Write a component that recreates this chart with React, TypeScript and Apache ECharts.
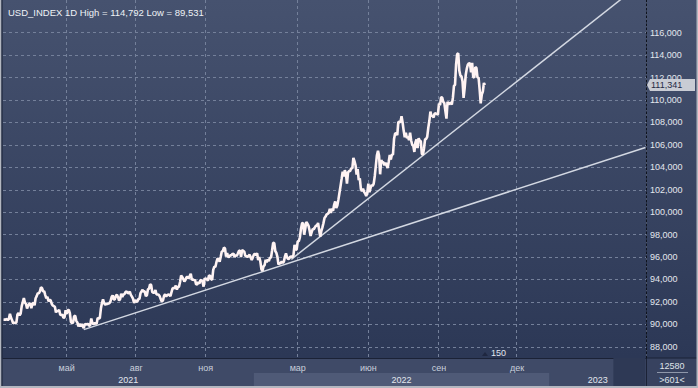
import React, { useEffect, useRef } from 'react';
import * as echarts from 'echarts';

// ---------- DATA ----------
const symbol = 'USD_INDEX';
const timeframe = '1D';
const highValue = 114.792;
const lowValue = 89.531;
const startDate = '2021-02-09';
const barsAhead = 150;
const volumeText = '12580';
const visibleBars = 601;

// daily closes, trading days (weekdays) from 2021-02-09
const closes2021 = [
  // Feb
  90.43, 90.42, 90.42, 90.48, 90.36, 90.49, 90.94, 90.59, 90.36, 90.10, 90.14, 90.14, 90.15, 90.88,
  // Mar
  91.01, 90.81, 90.97, 91.62, 91.98, 92.34, 91.94, 91.83, 91.42, 91.67, 91.82, 91.87, 91.44, 91.86, 91.92,
  91.70, 92.33, 92.52, 92.78, 92.77, 92.94, 93.29, 93.23,
  // Apr
  92.93, 92.96, 92.61, 92.33, 92.45, 92.06, 92.16, 92.17, 91.84, 91.68, 91.62, 91.56, 91.06, 91.24, 91.16,
  91.31, 90.86, 90.84, 90.86, 90.59, 90.62, 91.27,
  // May
  90.93, 91.28, 91.28, 90.99, 90.22, 90.11, 90.16, 90.73, 90.76, 90.31, 90.17, 89.81, 90.07, 89.80, 90.03,
  89.84, 89.66, 90.06, 89.97, 90.03, 90.03,
  // Jun
  89.88, 89.91, 90.52, 90.14, 90.00, 90.10, 90.10, 90.06, 90.57, 90.53, 90.55, 91.41, 91.90, 92.23, 91.90,
  91.75, 91.81, 91.82, 91.85, 91.90, 92.06, 92.44,
  // Jul
  92.58, 92.23, 92.23, 92.55, 92.64, 92.42, 92.12, 92.26, 92.73, 92.45, 92.66, 92.68, 92.88, 92.94, 92.79,
  92.78, 92.92, 92.63, 92.47, 92.29, 91.91, 92.17,
  // Aug
  92.05, 92.00, 92.27, 92.25, 92.78, 92.93, 93.08, 92.92, 92.94, 92.52, 92.60, 93.13, 93.19, 93.58, 93.50,
  92.89, 92.82, 92.82, 93.07, 92.66, 92.66, 92.63,
  // Sep
  92.50, 92.23, 92.03, 92.13, 92.53, 92.68, 92.49, 92.58, 92.67, 92.63, 92.51, 92.87, 93.20, 93.27, 93.21,
  93.46, 93.10, 93.33, 93.36, 93.77, 94.36, 94.23,
  // Oct
  94.04, 93.82, 93.96, 94.21, 94.21, 94.09, 94.31, 94.51, 93.97, 93.99, 93.96, 93.94, 93.57, 93.56, 93.76,
  93.62, 93.95, 93.92, 93.80, 93.36, 94.12,
  // Nov
  94.04, 94.06, 93.88, 94.36, 94.34, 94.04, 93.96, 94.86, 95.15, 95.12, 95.54, 95.86, 95.83, 95.58, 96.03,
  96.50, 96.52, 96.84, 96.78, 96.04, 96.36, 95.99,
  // Dec
  96.03, 96.15, 96.16, 96.28, 96.30, 95.99, 96.18, 96.10, 96.31, 96.54, 96.60, 95.99, 96.63, 96.54, 96.49,
  96.09, 96.10, 96.01, 96.09, 96.22, 95.96, 95.75, 95.97,
];

const closes2022 = [
  // Jan
  96.22, 96.29, 96.18, 96.35, 95.73, 95.99, 95.63, 94.92, 94.76, 95.17, 95.28, 95.75, 95.53, 95.78, 95.64,
  95.96, 95.94, 96.58, 97.25, 97.27, 96.54,
  // Feb
  96.38, 96.01, 95.34, 95.47, 95.43, 95.62, 95.47, 95.59, 96.04, 96.32, 95.98, 95.82, 95.87, 96.03, 96.05,
  96.00, 96.18, 97.09, 96.62, 96.70,
  // Mar
  97.41, 97.41, 97.77, 98.51, 99.00, 99.06, 97.99, 98.52, 99.12, 98.99, 98.81, 98.40, 97.88, 98.22, 98.50,
  98.47, 98.64, 98.80, 98.79, 99.04, 98.40, 97.82, 98.31,
  // Apr
  98.62, 99.02, 99.48, 99.61, 99.81, 99.85, 99.95, 100.31, 99.93, 100.33, 100.12, 100.66, 100.96, 100.38,
  100.60, 101.12, 101.73, 102.34, 102.97, 103.62, 103.19,
  // May
  103.75, 103.46, 102.54, 103.55, 103.66, 103.67, 103.92, 103.90, 104.85, 104.56, 104.19, 103.35, 103.85,
  102.87, 103.01, 102.07, 101.87, 102.09, 101.81, 101.66, 101.44, 101.75,
  // Jun
  102.55, 101.79, 102.14, 102.43, 102.34, 102.55, 103.23, 104.15, 105.08, 105.48, 105.03, 103.38, 104.65,
  104.46, 104.45, 104.19, 104.41, 104.19, 103.95, 104.48, 105.10, 104.69,
  // Jul
  105.14, 105.12, 106.52, 107.02, 107.04, 106.87, 108.03, 108.07, 108.02, 108.56, 108.00, 107.28, 106.68,
  107.08, 106.61, 106.71, 106.44, 107.08, 106.39, 106.01, 105.92,
  // Aug
  105.37, 106.23, 106.49, 105.71, 106.60, 106.38, 106.34, 105.19, 105.12, 105.68, 106.49, 106.54, 106.72,
  107.52, 108.15, 108.97, 108.58, 108.60, 108.44, 108.82, 108.79, 108.77, 108.70,
  // Sep
  109.69, 109.54, 110.25, 110.23, 109.83, 109.73, 109.01, 108.34, 109.85, 109.63, 109.72, 109.76, 109.59,
  110.19, 111.26, 111.36, 113.19, 114.10, 114.16, 112.63, 112.18, 112.12,
  // Oct
  111.68, 110.19, 111.06, 112.24, 112.80, 113.15, 113.29, 113.24, 112.47, 113.31, 112.06, 111.99, 112.94,
  112.86, 111.99, 112.01, 110.95, 109.71, 110.49, 110.76, 111.52,
  // Nov
  111.341,
];

const lastPrice = 111.341;

const monthTickDates = ['2021-05-03', '2021-08-02', '2021-11-01', '2022-03-01', '2022-06-01', '2022-09-01', '2022-12-01'];
const monthTickLabels = ['май', 'авг', 'ноя', 'мар', 'июн', 'сен', 'дек'];
const yTicks = [88, 90, 92, 94, 96, 98, 100, 102, 104, 106, 108, 110, 112, 114, 116];

const yearBands = [
  { year: '2021', from: '2021-02-09', to: '2021-12-31', color: '#3f4a67' },
  { year: '2022', from: '2022-01-03', to: '2022-12-31', color: '#4f5a77' },
  { year: '2023', from: '2023-01-01', to: '2023-03-31', color: '#3f4a67' },
];
const scaleBlockFrom = '2023-03-01';

// trend lines: [date, value]
const trend1: [string, number][] = [['2021-05-25', 89.531], ['2023-03-31', 105.77]];
const trend2: [string, number][] = [['2022-02-21', 95.8], ['2023-03-31', 120.7]];

// ---------- helpers ----------
function buildCategories(): string[] {
  const total = closes2021.length + closes2022.length;
  const out: string[] = [];
  const [y, m, d] = startDate.split('-').map(Number);
  let t = Date.UTC(y, m - 1, d);
  const DAY = 86400000;
  const fmt = (ms: number) => new Date(ms).toISOString().slice(0, 10);
  while (out.length < total) {
    const wd = new Date(t).getUTCDay();
    if (wd !== 0 && wd !== 6) out.push(fmt(t));
    t += DAY;
  }
  for (let i = 0; i < barsAhead; i++) {
    out.push(fmt(t));
    t += DAY;
  }
  return out;
}

const fmtNum = (v: number) => v.toFixed(3).replace('.', ',');
const FONT = '"Liberation Sans", Arial, sans-serif';

export default function App() {
  const ref = useRef<HTMLDivElement>(null);

  useEffect(() => {
    document.body.style.margin = '0';
    if (!ref.current) return;
    const chart = echarts.init(ref.current, undefined, { renderer: 'svg' });
    const cats = buildCategories();
    const closes = [...closes2021, ...closes2022];
    const lastDataDate = cats[closes.length - 1];
    const tickSet = new Set(monthTickDates);
    const labelMap: Record<string, string> = {};
    monthTickDates.forEach((d, i) => (labelMap[d] = monthTickLabels[i]));

    const W = 698;
    const H = 388;
    const rightW = 52;
    const plotBottom = 358;

    chart.setOption({
      animation: false,
      textStyle: { fontFamily: FONT },
      backgroundColor: {
        type: 'linear', x: 0, y: 0, x2: 0, y2: 1,
        colorStops: [
          { offset: 0, color: '#46526f' },
          { offset: 0.92, color: '#2c3856' },
          { offset: 1, color: '#2c3856' },
        ],
      },
      title: {
        text: `${symbol} ${timeframe} High = ${fmtNum(highValue)} Low = ${fmtNum(lowValue)}`,
        left: 3,
        top: 2,
        textStyle: { color: '#eef1f6', fontSize: 9.5, fontWeight: 'normal', fontFamily: FONT },
      },
      grid: [
        { left: 3, right: rightW, top: 0, height: plotBottom },
        { left: 3, right: rightW, top: plotBottom, height: 28 },
      ],
      xAxis: [
        {
          type: 'category',
          gridIndex: 0,
          data: cats,
          boundaryGap: true,
          axisLine: { show: true, lineStyle: { color: '#1b2236', width: 1 } },
          axisTick: { show: false },
          axisLabel: {
            interval: (_i: number, v: string) => tickSet.has(v),
            formatter: (v: string) => labelMap[v] || '',
            color: '#c9cfdb',
            fontSize: 9,
            margin: 5,
            fontFamily: FONT,
          },
          splitLine: {
            show: true,
            interval: (_i: number, v: string) => tickSet.has(v),
            lineStyle: { color: '#74809a', type: [3, 3], width: 1 },
          },
        },
        { type: 'category', gridIndex: 1, data: cats, show: false, boundaryGap: true },
      ],
      yAxis: [
        {
          type: 'value',
          gridIndex: 0,
          position: 'right',
          min: 87,
          max: 118.92,
          axisLine: { show: true, lineStyle: { color: '#0f131d', type: [2, 2], width: 1 } },
          axisTick: { show: false, customValues: yTicks },
          axisLabel: {
            customValues: yTicks,
            formatter: (v: number) => fmtNum(v),
            color: '#e3e7ee',
            fontSize: 9,
            margin: 4,
            fontFamily: FONT,
          },
          splitLine: { show: true, lineStyle: { color: '#74809a', type: [3, 3], width: 1 } },
        },
        { type: 'value', gridIndex: 1, min: 0, max: 28, show: false },
      ],
      series: [
        {
          type: 'line',
          xAxisIndex: 1,
          yAxisIndex: 1,
          data: [],
          silent: true,
          markArea: {
            silent: true,
            label: { show: true, position: 'inside', color: '#e2e6ee', fontSize: 9, fontFamily: FONT },
            data: [
              ...yearBands.map((b) => [
                { name: b.year, xAxis: b.from, yAxis: 0, itemStyle: { color: b.color } },
                { xAxis: b.to, yAxis: 13 },
              ]),
              [
                { name: '', xAxis: scaleBlockFrom, yAxis: 0, itemStyle: { color: '#2e3955' }, label: { show: false } },
                { xAxis: cats[cats.length - 1], yAxis: 28 },
              ],
            ],
          },
        },
        {
          type: 'line',
          xAxisIndex: 0,
          yAxisIndex: 0,
          data: trend1,
          showSymbol: false,
          symbol: 'none',
          lineStyle: { color: '#d3d8e2', width: 1.5 },
          z: 3,
        },
        {
          type: 'line',
          xAxisIndex: 0,
          yAxisIndex: 0,
          data: trend2,
          showSymbol: false,
          symbol: 'none',
          lineStyle: { color: '#d3d8e2', width: 1.5 },
          z: 3,
        },
        {
          type: 'line',
          xAxisIndex: 0,
          yAxisIndex: 0,
          data: closes,
          showSymbol: false,
          symbol: 'none',
          lineStyle: { color: '#fff3f3', width: 2.6 },
          z: 4,
        },
      ],
    });

    const yLast = chart.convertToPixel({ yAxisIndex: 0 }, lastPrice) as number;
    const xLast = chart.convertToPixel({ xAxisIndex: 0 }, lastDataDate) as number;
    const axisX = W - rightW;

    chart.setOption({
      graphic: [
        // bottom axis area background
        { type: 'rect', z: -1, shape: { x: 0, y: plotBottom + 0.5, width: W, height: H - plotBottom }, style: { fill: '#3f4a67' } },
        // bottom-right cell
        { type: 'rect', z: -1, shape: { x: axisX, y: plotBottom + 0.5, width: rightW, height: 28 }, style: { fill: '#37425f' } },
        { type: 'line', shape: { x1: axisX, y1: plotBottom, x2: W, y2: plotBottom }, style: { stroke: '#1b2236', lineWidth: 1 } },
        { type: 'line', shape: { x1: axisX + 0.5, y1: plotBottom, x2: axisX + 0.5, y2: H - 2 }, style: { stroke: '#1b2236', lineWidth: 1 } },
        { type: 'text', x: axisX + 26, y: 366, style: { text: volumeText, fill: '#dfe3ea', fontSize: 9, fontFamily: FONT, align: 'center', verticalAlign: 'middle' } },
        { type: 'line', shape: { x1: axisX + 11, y1: 372.5, x2: axisX + 42, y2: 372.5 }, style: { stroke: '#8e97aa', lineWidth: 1 } },
        { type: 'text', x: axisX + 26, y: 380, style: { text: `>${visibleBars}<`, fill: '#dfe3ea', fontSize: 9, fontFamily: FONT, align: 'center', verticalAlign: 'middle' } },
        // frame
        { type: 'rect', shape: { x: 0, y: 0, width: 1.5, height: H }, style: { fill: '#b3b7c0' } },
        { type: 'rect', shape: { x: 1.5, y: 0, width: 1, height: H }, style: { fill: '#1b2236' } },
        { type: 'rect', shape: { x: 0, y: H - 2, width: W, height: 2 }, style: { fill: '#b3b7c0' } },
        { type: 'rect', shape: { x: W - 1.5, y: 0, width: 1.5, height: H }, style: { fill: '#b3b7c0' } },
        // last price marker
        {
          type: 'polygon',
          shape: {
            points: [
              [axisX + 1, yLast],
              [axisX + 4, yLast - 6],
              [W - 3, yLast - 6],
              [W - 3, yLast + 6],
              [axisX + 4, yLast + 6],
            ],
          },
          style: { fill: '#c9ccd4' },
          z: 10,
        },
        { type: 'text', x: axisX + 5, y: yLast, z: 11, style: { text: fmtNum(lastPrice), fill: '#1f2a44', fontSize: 9, fontFamily: FONT, verticalAlign: 'middle' } },
        // bars-ahead marker
        {
          type: 'polygon',
          shape: { points: [[xLast - 3, plotBottom - 2], [xLast + 3, plotBottom - 2], [xLast, plotBottom - 6]] },
          style: { fill: '#1f2740' },
          z: 10,
        },
        { type: 'text', x: xLast + 6, y: plotBottom - 5, z: 10, style: { text: String(barsAhead), fill: '#e2e6ee', fontSize: 9, fontFamily: FONT, verticalAlign: 'middle' } },
      ],
    });

    return () => chart.dispose();
  }, []);

  return <div ref={ref} style={{ width: 698, height: 388 }} />;
}
